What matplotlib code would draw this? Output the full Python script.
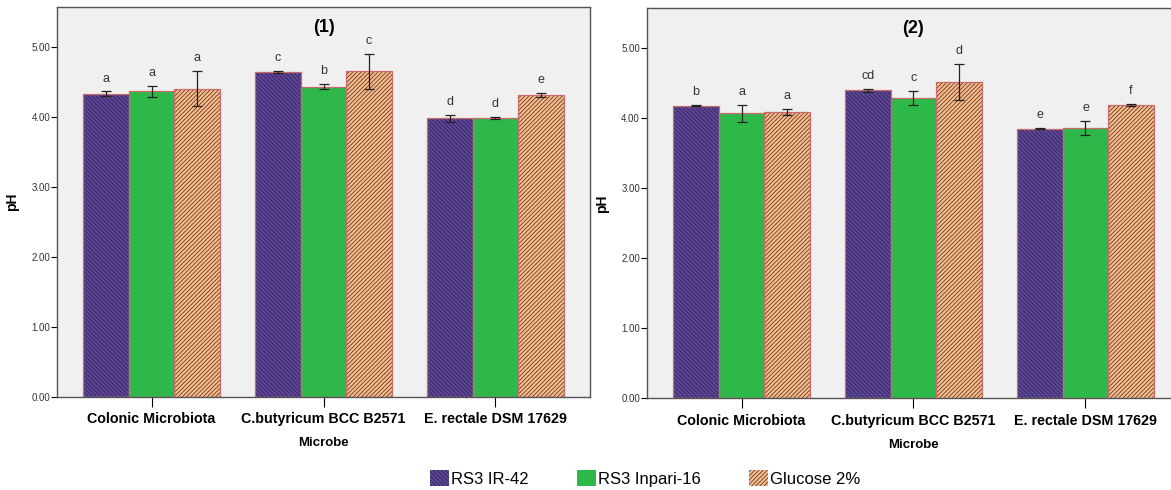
import numpy as np
import matplotlib.pyplot as plt
from matplotlib.patches import Patch

plt.rcParams['font.family'] = ['Liberation Sans', 'DejaVu Sans']
plt.rcParams['hatch.linewidth'] = 0.6

microbes = ['Colonic Microbiota', 'C.butyricum BCC B2571', 'E. rectale DSM 17629']
series = ['RS3 IR-42', 'RS3 Inpari-16', 'Glucose 2%']

# panel (1)
ph1 = [[4.33, 4.64, 3.98],
       [4.36, 4.43, 3.98],
       [4.40, 4.65, 4.31]]
err1 = [[0.03, 0.01, 0.05],
        [0.08, 0.04, 0.01],
        [0.25, 0.25, 0.03]]
let1 = [['a', 'c', 'd'],
        ['a', 'b', 'd'],
        ['a', 'c', 'e']]

# panel (2)
ph2 = [[4.18, 4.40, 3.85],
       [4.07, 4.29, 3.86],
       [4.09, 4.52, 4.19]]
err2 = [[0.01, 0.02, 0.01],
        [0.12, 0.095, 0.095],
        [0.04, 0.26, 0.02]]
let2 = [['b', 'cd', 'e'],
        ['a', 'c', 'e'],
        ['a', 'd', 'f']]

faces = ['#5e4796', '#2fb84a', '#f4bd90']
hatchcol = ['#33245c', '#2fb84a', '#6e3c1e']
hatches = ['\\' * 8, '', '/' * 8]
edge = '#c96b6b'

fig = plt.figure(figsize=(11.71, 4.90), dpi=100)
ax1 = fig.add_axes([0.0487, 0.1904, 0.4552, 0.7943])
ax2 = fig.add_axes([0.5525, 0.1871, 0.4552, 0.7959])

x = np.arange(len(microbes))
w = 0.265


def panel(ax, ph, err, lets, title, ytop):
    ax.set_facecolor('#f0f0f0')
    for i in range(3):
        pos = x + (i - 1) * w
        ax.bar(pos, ph[i], w, color=faces[i], edgecolor=hatchcol[i],
               hatch=hatches[i], linewidth=0, zorder=2)
        ax.bar(pos, ph[i], w, fill=False, edgecolor=edge, linewidth=0.9, zorder=3)
        ax.errorbar(pos, ph[i], yerr=err[i], fmt='none', ecolor='#222222',
                    elinewidth=0.9, capsize=3.6, capthick=0.9, zorder=4)
        for j in range(3):
            ax.annotate(lets[i][j], (pos[j], ph[i][j] + err[i][j]),
                        xytext=(0, 5), textcoords='offset points',
                        ha='center', va='bottom', fontsize=9, color='#333333')
    ax.set_xlim(-0.55, 2.55)
    ax.set_ylim(0, ytop)
    ax.set_yticks([0, 1, 2, 3, 4, 5])
    ax.set_yticklabels(['%.2f' % v for v in [0, 1, 2, 3, 4, 5]],
                       fontsize=7, color='#333333')
    ax.set_xticks(x)
    ax.set_xticklabels(microbes, fontsize=10.3, fontweight='bold')
    ax.tick_params(axis='y', length=4, width=0.8, pad=1)
    ax.tick_params(axis='x', length=7, width=0.8, pad=4)
    for s in ax.spines.values():
        s.set_color('#555555')
        s.set_linewidth(1.0)
    ax.set_xlabel('Microbe', fontsize=9.5, fontweight='bold', labelpad=8)
    ax.set_ylabel('pH', fontsize=10, fontweight='bold', labelpad=9)
    ax.text(1, 0.97, title, transform=ax.get_xaxis_transform(), ha='center',
            va='top', fontsize=13, fontweight='bold')


panel(ax1, ph1, err1, let1, '(1)', 5.56)
panel(ax2, ph2, err2, let2, '(2)', 5.57)

handles = [Patch(facecolor=faces[i], edgecolor=hatchcol[i],
                 hatch=hatches[i], linewidth=0) for i in range(3)]
leg = fig.legend(handles, series, loc='center', bbox_to_anchor=(0.551, 0.024),
                 ncol=3, frameon=False, fontsize=12, handlelength=1.15,
                 handleheight=1.15, handletextpad=0.1, columnspacing=2.9)

fig.savefig('out.png', dpi=100)
